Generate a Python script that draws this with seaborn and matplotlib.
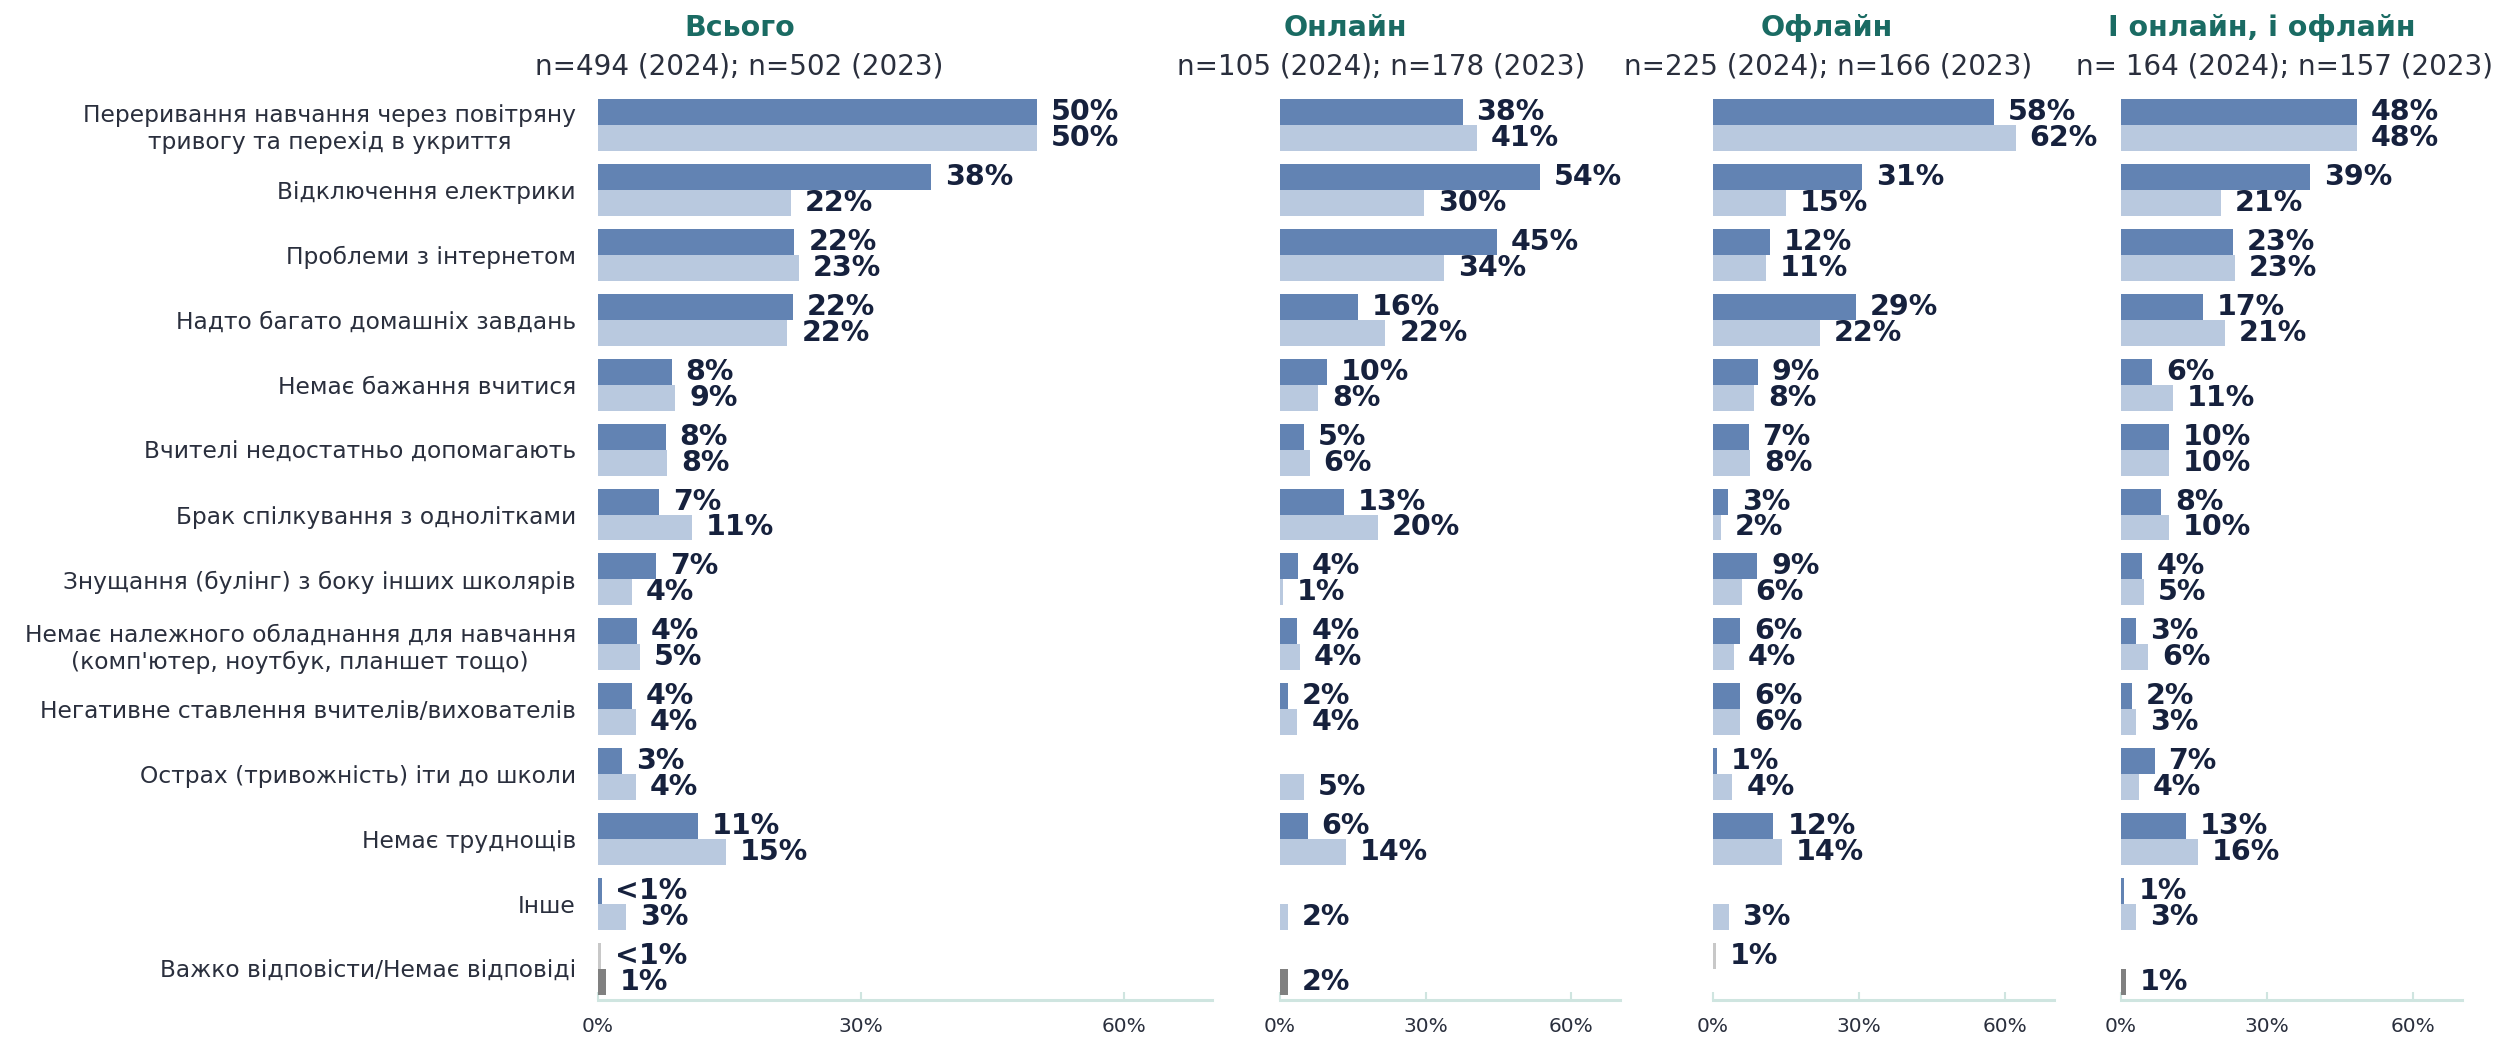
import matplotlib
matplotlib.use("Agg")
import matplotlib.pyplot as plt
import seaborn as sns
import pandas as pd

# ---------------- data ----------------
categories = [
    "Переривання навчання через повітряну\nтривогу та перехід в укриття",
    "Відключення електрики",
    "Проблеми з інтернетом",
    "Надто багато домашніх завдань",
    "Немає бажання вчитися",
    "Вчителі недостатньо допомагають",
    "Брак спілкування з однолітками",
    "Знущання (булінг) з боку інших школярів",
    "Немає належного обладнання для навчання\n(комп'ютер, ноутбук, планшет тощо)",
    "Негативне ставлення вчителів/вихователів",
    "Острах (тривожність) іти до школи",
    "Немає труднощів",
    "Інше",
    "Важко відповісти/Немає відповіді",
]
years = ["2024", "2023"]

panel_titles = ["Всього", "Онлайн", "Офлайн", "І онлайн, і офлайн"]
panel_subtitles = [
    "n=494 (2024); n=502 (2023)",
    "n=105 (2024); n=178 (2023)",
    "n=225 (2024); n=166 (2023)",
    "n= 164 (2024); n=157 (2023)",
]

total_2024 = [50.0, 38.0, 22.4, 22.2, 8.4, 7.7, 7.0, 6.6, 4.4, 3.9, 2.7, 11.4, 0.4, 0.3]
total_2023 = [50.0, 22.0, 22.9, 21.6, 8.8, 7.9, 10.7, 3.9, 4.8, 4.3, 4.3, 14.6, 3.2, 0.9]

online_2024 = [37.6, 53.6, 44.6, 16.0, 9.6, 4.9, 13.1, 3.7, 3.6, 1.6, 0.0, 5.7, 0.0, 0.0]
online_2023 = [40.6, 29.6, 33.8, 21.7, 7.8, 6.1, 20.1, 0.6, 4.1, 3.6, 4.9, 13.6, 1.6, 1.6]

offline_2024 = [57.6, 30.6, 11.6, 29.3, 9.2, 7.3, 3.1, 9.1, 5.6, 5.6, 0.8, 12.4, 0.0, 0.6]
offline_2023 = [62.1, 15.0, 10.9, 21.9, 8.4, 7.6, 1.6, 5.9, 4.3, 5.6, 4.0, 14.1, 3.2, 0.0]

both_2024 = [48.4, 38.9, 23.0, 16.8, 6.4, 9.9, 8.3, 4.4, 3.1, 2.3, 6.9, 13.3, 0.7, 0.0]
both_2023 = [48.4, 20.6, 23.3, 21.3, 10.6, 9.9, 9.9, 4.7, 5.6, 3.1, 3.6, 15.8, 3.1, 1.0]

panel_values = [
    (total_2024, total_2023),
    (online_2024, online_2023),
    (offline_2024, offline_2023),
    (both_2024, both_2023),
]

x_ticks = [0, 30, 60]
x_tick_labels = ["0%", "30%", "60%"]

# ---------------- style ----------------
DARK = "#6283b3"
LIGHT = "#b9c9df"
GREY_2024 = "#c8c8c8"
GREY_2023 = "#808080"
TEAL = "#1a6b63"
NAVY = "#16213d"
TEXT = "#2a2f3d"
AXIS = "#cfe5e0"

sns.set_theme(style="white")
plt.rcParams["font.family"] = ["DejaVu Sans"]

W, H = 2496, 1037
fig = plt.figure(figsize=(W / 100, H / 100), dpi=100)
fig.patch.set_facecolor("white")

ax_bottom = (H - 1000) / H
ax_height = (1000 - 92.5) / H
panel_lr = [(598, 614), (1280, 340), (1713, 341), (2121, 341)]
title_x = [740, 1345, 1827, 2262]
subtitle_x = [739, 1381, 1828, 2285]


def fmt(v):
    if v <= 0:
        return ""
    if v < 0.5:
        return "<1%"
    return f"{int(v + 0.5)}%"


for p, ((v24, v23), (left, width)) in enumerate(zip(panel_values, panel_lr)):
    ax = fig.add_axes([left / W, ax_bottom, width / W, ax_height])
    df = pd.DataFrame({
        "category": categories * 2,
        "year": [years[0]] * len(categories) + [years[1]] * len(categories),
        "value": list(v24) + list(v23),
    })
    sns.barplot(
        data=df, y="category", x="value", hue="year",
        order=categories, hue_order=years,
        palette=[DARK, LIGHT], saturation=1, width=0.8,
        orient="h", errorbar=None, legend=False, ax=ax,
        linewidth=0, edgecolor="none",
    )
    last = len(categories) - 1
    for ci, cont in enumerate(ax.containers):
        vals = v24 if ci == 0 else v23
        labels = []
        for bar in cont:
            idx = int(round(bar.get_y() + bar.get_height() / 2))
            if idx == last:
                bar.set_facecolor(GREY_2024 if ci == 0 else GREY_2023)
            if 0 < bar.get_width() < 0.35:
                bar.set_width(0.35)
            labels.append(fmt(vals[idx]))
        ax.bar_label(cont, labels=labels, padding=10, fontsize=20.5,
                     fontweight="bold", color=NAVY)

    ax.set_xlim(0, 70)
    ax.set_ylim(13.478, -0.5)
    ax.set_xticks(x_ticks)
    ax.set_xticklabels(x_tick_labels, fontsize=14.5, color=TEXT)
    ax.tick_params(axis="x", direction="in", length=6, width=1.5,
                   color=AXIS, pad=12, bottom=True)
    ax.tick_params(axis="y", length=0, pad=16)
    ax.set_xlabel("")
    ax.set_ylabel("")
    for s in ["top", "right", "left"]:
        ax.spines[s].set_visible(False)
    ax.spines["bottom"].set_color(AXIS)
    ax.spines["bottom"].set_linewidth(2.2)
    if p == 0:
        for lab in ax.get_yticklabels():
            lab.set_fontsize(16.8)
            lab.set_color(TEXT)
            lab.set_multialignment("center")
    else:
        ax.set_yticklabels([])

    fig.text(title_x[p] / W, 1 - 28 / H, panel_titles[p], ha="center", va="center",
             fontsize=20.5, fontweight="bold", color=TEAL)
    fig.text(subtitle_x[p] / W, 1 - 67 / H, panel_subtitles[p], ha="center", va="center",
             fontsize=20, color=TEXT)

fig.savefig("out.png", dpi=100, facecolor="white")
